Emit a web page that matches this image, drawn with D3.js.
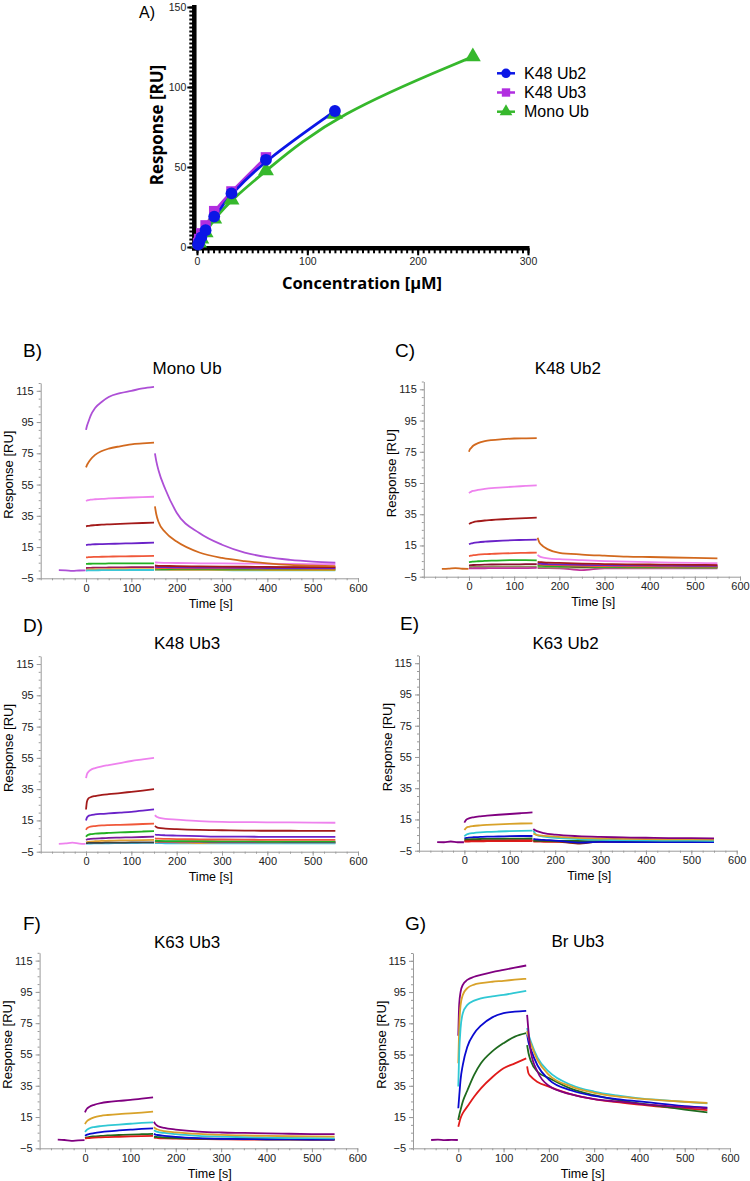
<!DOCTYPE html>
<html>
<head>
<meta charset="utf-8">
<script src="https://cdn.jsdelivr.net/npm/d3@7"></script>
<style>
  body { margin: 0; background: #fff; }
  svg { display: block; }
</style>
</head>
<body>
<svg id="canvas" width="750" height="1181"></svg>
<script>
// ---------- panel A: binding isotherms ----------
const concK48Ub2 = [0, 0.98, 1.95, 3.9, 7.8, 15.6, 31.25, 62.5, 125];
const respK48Ub2 = [0, 1.5, 3, 6, 10.5, 19, 33.5, 54.5, 85];
const concK48Ub3 = [0, 0.98, 1.95, 3.9, 7.8, 15.6, 31.25, 62.5];
const respK48Ub3 = [0, 2.5, 5, 8.5, 13.5, 22.4, 34.7, 56];
const concMonoUb = [0, 1.95, 3.9, 7.8, 15.6, 31.25, 62.5, 125, 250];
const respMonoUb = [0, 2.5, 5, 9, 17.5, 29.5, 47.7, 83, 119];

// ---------- sensorgram time grids ----------
const assocT = [0, 2, 5, 10, 20, 35, 50, 75, 100, 125, 150];
const dissocT = [152, 155, 160, 175, 200, 250, 300, 350, 400, 450, 500, 550];
const baseT = [-60, -45, -30, -15, -1];

// B) Mono Ub
const monoUbColors = ["#ad4fd6", "#d2691e", "#ee82ee", "#a31a1a", "#6a22c8", "#f0583a", "#22b022", "#9b1a5a", "#f0a030", "#3cc8d8"];
const monoUbAssoc = [
  [90, 92.5, 95, 99, 104, 108, 111, 113.5, 115, 116.5, 117.5],
  [66, 67.5, 69, 71, 74, 76.5, 78, 79.5, 80.7, 81.3, 81.8],
  [44.5, 44.8, 45, 45.3, 45.6, 45.9, 46.1, 46.4, 46.7, 47, 47.2],
  [28.3, 28.4, 28.6, 28.8, 29, 29.3, 29.5, 29.8, 30.1, 30.4, 30.7],
  [16.3, 16.4, 16.5, 16.6, 16.8, 16.9, 17, 17.2, 17.4, 17.6, 17.8],
  [8.4, 8.4, 8.5, 8.6, 8.7, 8.8, 8.9, 9, 9.1, 9.2, 9.3],
  [4.2, 4.2, 4.3, 4.3, 4.4, 4.4, 4.5, 4.5, 4.5, 4.6, 4.6],
  [1.6, 1.6, 1.7, 1.7, 1.8, 1.8, 1.9, 2, 2.1, 2.1, 2.2],
  [0.6, 0.6, 0.6, 0.7, 0.7, 0.7, 0.8, 0.8, 0.8, 0.9, 0.9],
  [0, 0, 0.1, 0.1, 0.1, 0.2, 0.2, 0.2, 0.3, 0.3, 0.3]
];
const monoUbDissoc = [
  [75, 70, 64, 52, 37, 24, 16.5, 11.5, 8.5, 6.8, 5.7, 5],
  [41, 36, 31, 24.5, 18.5, 11.5, 8, 6, 4.6, 3.6, 3.1, 2.8],
  [5.2, 5.1, 5, 4.9, 4.8, 4.6, 4.5, 4.4, 4.3, 4.2, 4.1, 4],
  [3.2, 3.1, 3, 2.9, 2.8, 2.6, 2.5, 2.4, 2.3, 2.2, 2.2, 2.1],
  [2.4, 2.3, 2.2, 2.1, 2, 1.9, 1.8, 1.7, 1.6, 1.6, 1.5, 1.5],
  [1.6, 1.6, 1.5, 1.5, 1.4, 1.4, 1.3, 1.3, 1.2, 1.2, 1.1, 1.1],
  [1, 1, 1, 0.9, 0.9, 0.9, 0.8, 0.8, 0.8, 0.8, 0.7, 0.7],
  [2.6, 2.5, 2.4, 2.3, 2.2, 2.1, 2, 2, 1.9, 1.9, 1.9, 1.8],
  [0.5, 0.5, 0.5, 0.5, 0.4, 0.4, 0.4, 0.4, 0.3, 0.3, 0.3, 0.3],
  [0.3, 0.3, 0.3, 0.2, 0.2, 0.2, 0.2, 0.1, 0.1, 0.1, 0.1, 0.1]
];
const monoUbBase = [0.2, 0.1, -0.3, 0, 0.1];

// C) K48 Ub2
const k48Ub2Colors = ["#d2691e", "#ee82ee", "#a31a1a", "#6a22c8", "#f0583a", "#22b022", "#8b1030", "#8f8f5a", "#c0309a"];
const k48Ub2Assoc = [
  [75, 76.5, 77.5, 79, 80.5, 81.8, 82.5, 83.1, 83.5, 83.6, 83.7],
  [48.5, 49, 49.5, 50, 50.6, 51.2, 51.7, 52.2, 52.7, 53.1, 53.5],
  [28.8, 29.1, 29.5, 30, 30.5, 31, 31.3, 31.8, 32.2, 32.5, 32.8],
  [15.8, 16, 16.3, 16.6, 17, 17.4, 17.7, 18.1, 18.4, 18.6, 18.8],
  [8.2, 8.3, 8.5, 8.8, 9.1, 9.4, 9.6, 9.9, 10.1, 10.3, 10.4],
  [4.3, 4.4, 4.5, 4.7, 4.9, 5.1, 5.3, 5.5, 5.6, 5.6, 5.5],
  [2.3, 2.3, 2.4, 2.5, 2.6, 2.7, 2.8, 2.9, 2.9, 3, 3],
  [1.2, 1.2, 1.2, 1.3, 1.3, 1.3, 1.4, 1.4, 1.4, 1.5, 1.5],
  [0.3, 0.3, 0.3, 0.4, 0.4, 0.4, 0.5, 0.5, 0.5, 0.5, 0.6]
];
const k48Ub2Dissoc = [
  [20, 17.5, 15.5, 12.5, 10.3, 9.2, 8.5, 7.9, 7.6, 7.3, 7, 6.7],
  [9, 8.2, 7.5, 6.8, 6.2, 5.6, 5, 4.6, 4.3, 4, 3.8, 3.6],
  [4.5, 4.4, 4.3, 4, 3.8, 3.4, 3.1, 2.9, 2.8, 2.7, 2.6, 2.5],
  [3.5, 3.4, 3.3, 3.1, 2.9, 2.6, 2.4, 2.3, 2.2, 2.1, 2, 2],
  [3, 2.9, 2.8, 2.6, 2.4, 2, 1.8, 1.7, 1.6, 1.5, 1.5, 1.4],
  [2, 1.9, 1.9, 1.8, 1.7, 1.5, 1.3, 1.2, 1.1, 1.1, 1, 1],
  [2.8, 2.7, 2.6, 2.5, 2.3, 1.2, 1.8, 1.7, 1.6, 1.6, 1.5, 1.5],
  [1, 1, 1, 0.9, 0.9, 0.8, 0.8, 0.7, 0.7, 0.7, 0.6, 0.6],
  [0.5, 0.5, 0.5, 0.5, 0.4, -0.8, 0.4, 0.4, 0.3, 0.3, 0.3, 0.3]
];
const k48Ub2Base = [0, 0.2, 0.5, 0.1, 0];

// D) K48 Ub3
const k48Ub3Colors = ["#ee82ee", "#a31a1a", "#6a22c8", "#f0583a", "#22b022", "#7a1a9a", "#e0a030", "#3cb8e0", "#404040"];
const k48Ub3Assoc = [
  [42, 44.5, 46, 47.3, 48.5, 49.6, 50.4, 51.7, 53, 54, 55],
  [22, 27, 29, 29.8, 30.6, 31.3, 31.8, 32.5, 33.3, 34.1, 35],
  [15, 16.8, 17.8, 18.3, 18.8, 19.2, 19.5, 20, 20.5, 21.2, 22],
  [9, 10, 10.5, 11, 11.4, 11.8, 12, 12.2, 12.4, 12.7, 13],
  [4.5, 5.3, 5.8, 6.2, 6.5, 6.8, 7, 7.3, 7.6, 7.9, 8.2],
  [2.5, 2.8, 3, 3.2, 3.4, 3.6, 3.8, 4, 4.2, 4.4, 4.6],
  [1, 1.2, 1.3, 1.5, 1.7, 1.9, 2, 2.2, 2.3, 2.4, 2.5],
  [0, 0.1, 0.1, 0.2, 0.3, 0.4, 0.4, 0.5, 0.5, 0.6, 0.6],
  [0.5, 0.5, 0.6, 0.6, 0.7, 0.7, 0.8, 0.8, 0.9, 0.9, 1]
];
const k48Ub3Dissoc = [
  [18.4, 17.5, 16.8, 16, 15.5, 14.6, 14.1, 13.9, 13.8, 13.7, 13.6, 13.5],
  [11.5, 10.8, 10.2, 9.8, 9.4, 8.9, 8.7, 8.5, 8.4, 8.4, 8.3, 8.3],
  [6, 5.8, 5.7, 5.5, 5.3, 4.9, 4.6, 4.6, 4.5, 4.5, 4.5, 4.5],
  [3.5, 3.4, 3.3, 3.2, 3.1, 2.9, 2.8, 2.7, 2.6, 2.6, 2.5, 2.5],
  [2, 2, 1.9, 1.8, 1.8, 1.7, 1.6, 1.6, 1.5, 1.5, 1.5, 1.5],
  [1.6, 1.6, 1.5, 1.5, 1.4, 1.4, 1.3, 1.3, 1.3, 1.2, 1.2, 1.2],
  [1.2, 1.2, 1.1, 1.1, 1, 0.5, 1, 0.9, 0.9, 0.9, 0.9, 0.9],
  [0.5, 0.5, 0.5, 0.4, 0.4, 0.4, 0.3, 0.3, 0.3, 0.3, 0.3, 0.3],
  [0.8, 0.8, 0.8, 0.7, 0.7, 0.7, 0.6, 0.6, 0.6, 0.6, 0.6, 0.6]
];
const k48Ub3Base = [0, 0.3, 0.8, 0.2, 0];

// E) K63 Ub2
const k63Ub2Colors = ["#800080", "#d8a22a", "#30c8d4", "#0a0ad0", "#1e6a1e", "#8b2a10", "#e01a1a"];
const k63Ub2Assoc = [
  [13, 14, 15, 15.7, 16.4, 17, 17.4, 18, 18.5, 19, 19.5],
  [8.2, 9, 9.8, 10.3, 10.8, 11.2, 11.5, 11.9, 12.2, 12.4, 12.5],
  [4.2, 4.8, 5.4, 5.9, 6.3, 6.7, 7, 7.3, 7.5, 7.7, 7.8],
  [2.8, 3, 3.2, 3.4, 3.6, 3.8, 4, 4.1, 4.3, 4.4, 4.4],
  [2, 2.1, 2.2, 2.3, 2.4, 2.5, 2.6, 2.6, 2.7, 2.7, 2.8],
  [1.3, 1.3, 1.4, 1.4, 1.5, 1.5, 1.6, 1.6, 1.7, 1.7, 1.8],
  [0.8, 0.8, 0.9, 0.9, 1, 1, 1.1, 1.1, 1.1, 1.2, 1.2]
];
const k63Ub2Dissoc = [
  [9, 8.2, 7.5, 6.3, 5.3, 4.3, 3.8, 3.5, 3.3, 3.1, 3, 2.9],
  [6, 5.5, 5, 4.5, 4, 3.2, 2.8, 2.6, 2.4, 2.3, 2.2, 2.1],
  [8, 6.3, 5, 4, 3.3, 2.5, 2, 1.8, 1.6, 1.5, 1.4, 1.3],
  [2.5, 2.4, 2.2, 1.9, 1.5, 0.2, 0.6, 0.5, 0.5, 0.5, 0.5, 0.5],
  [1.6, 1.6, 1.5, 1.4, 1.3, 1.2, 1.1, 1.1, 1, 1, 1, 1],
  [1.2, 1.2, 1.1, 1.1, 1, -0.4, 0.9, 0.9, 0.8, 0.8, 0.8, 0.8],
  [0.8, 0.8, 0.8, 0.7, 0.7, 0.6, 0.6, 0.6, 0.5, 0.5, 0.5, 0.5]
];
const k63Ub2Base = [0.5, 0.4, 0.9, 0.4, 0.4];

// F) K63 Ub3
const k63Ub3Colors = ["#800080", "#d8a22a", "#30c8d4", "#0a0ad0", "#1e6a1e", "#e01a1a"];
const k63Ub3Assoc = [
  [18, 19.3, 20.5, 21.6, 22.8, 23.9, 24.6, 25.3, 25.9, 26.7, 27.6],
  [10.5, 11.5, 12.5, 13.5, 14.8, 15.8, 16.3, 16.9, 17.3, 17.8, 18.4],
  [5.5, 6.2, 7, 7.8, 8.6, 9.2, 9.6, 10.2, 10.7, 11.2, 11.6],
  [3, 3.4, 3.8, 4.2, 4.7, 5.3, 5.8, 6.4, 6.9, 7.4, 7.8],
  [1.7, 1.8, 2, 2.3, 2.6, 2.9, 3.2, 3.5, 3.8, 4, 4.2],
  [1.3, 1.4, 1.5, 1.6, 1.8, 2, 2.2, 2.4, 2.6, 2.8, 2.9]
];
const k63Ub3Dissoc = [
  [12, 10.5, 9.3, 8, 7, 5.7, 5.1, 4.8, 4.5, 4.3, 4.1, 4],
  [8.5, 7.7, 7, 6, 5.2, 4.2, 3.6, 3.2, 2.9, 2.7, 2.6, 2.5],
  [6.5, 6, 5.5, 4.8, 4, 3, 2.5, 2.1, 1.8, 1.6, 1.5, 1.4],
  [4.2, 3.8, 3.5, 3, 2.3, 1.5, 1.1, 0.9, 0.8, 0.7, 0.6, 0.6],
  [2.5, 2.3, 2.2, 1.9, 1.6, 1.2, 1, 0.9, 0.8, 0.8, 0.7, 0.7],
  [1.8, 1.7, 1.6, 1.4, 1.2, 0.9, 0.7, 0.6, 0.5, 0.5, 0.4, 0.4]
];
const k63Ub3Base = [0.5, 0.3, -0.2, 0.1, 0.2];

// G) Br Ub3
const brUb3Colors = ["#800080", "#d8a22a", "#30c8d4", "#0a0ad0", "#1e6a1e", "#e01a1a"];
const brUb3Assoc = [
  [67, 87, 95, 99.6, 102.8, 104.8, 106, 107.8, 109.2, 110.6, 112],
  [49.4, 72, 86.5, 93.2, 97.5, 99.8, 100.7, 101.6, 102.2, 102.9, 103.5],
  [34.5, 56, 71.5, 81.5, 86.8, 89.5, 91, 92.2, 93.2, 94.5, 95.8],
  [20.6, 28, 38.8, 48.4, 60, 68.5, 73.5, 78.8, 81.5, 82.5, 83],
  [13.1, 16, 19.5, 24.9, 32, 42, 49.4, 57, 62.3, 66.5, 68.7],
  [8.8, 11, 14.2, 17.5, 21.7, 28, 33.4, 40.5, 46.2, 49.4, 52.6]
];
const brUb3Dissoc = [
  [80.4, 70, 57, 44, 35, 29.5, 26.5, 25, 23.5, 22.3, 21.3, 20.6],
  [70, 66, 62, 51.5, 42, 34.5, 30.5, 28.2, 26.8, 25.7, 24.8, 24],
  [72, 68, 63.5, 53, 44, 35.5, 31.3, 28.8, 27, 25.8, 24.7, 23.8],
  [68, 63, 58.5, 48, 39, 32, 28.5, 26.5, 25, 23.5, 22, 21],
  [61, 56, 51, 44, 40, 33, 29, 26, 23.8, 21.8, 19.8, 18],
  [47.5, 43, 41, 37.5, 34.5, 29.5, 26.5, 24.5, 23, 21.5, 20.5, 19.4]
];
const brUb3Base = [0.3, 0.5, 0.2, 0.4, 0.3];

const svg = d3.select("#canvas");

// ================= Panel A =================
const xA = d3.scaleLinear().domain([0, 300]).range([197, 528]);
const yA = d3.scaleLinear().domain([0, 150]).range([247, 7]);
const gA = svg.append("g");

// minor ticks (Prism look)
gA.append("g")
  .attr("transform", "translate(194.3,0)")
  .call(d3.axisLeft(yA).tickValues(d3.range(0, 150.1, 2.5)).tickSize(5).tickFormat(""))
  .call(g => g.select(".domain").remove())
  .selectAll("line").attr("stroke", "#000").attr("stroke-width", 2);
gA.append("g")
  .attr("transform", "translate(0,248.3)")
  .call(d3.axisBottom(xA).tickValues(d3.range(0, 300.1, 5)).tickSize(5).tickFormat(""))
  .call(g => g.select(".domain").remove())
  .selectAll("line").attr("stroke", "#000").attr("stroke-width", 2);

const yAxisA = gA.append("g")
  .attr("transform", "translate(194.3,0)")
  .call(d3.axisLeft(yA).tickValues([0, 50, 100, 150]).tickSize(7).tickSizeOuter(0).tickPadding(1));
yAxisA.select(".domain").attr("stroke-width", 4.5).attr("d", "M0,5V250.5");
const xAxisA = gA.append("g")
  .attr("transform", "translate(0,248.3)")
  .call(d3.axisBottom(xA).tickValues([0, 100, 200, 300]).tickSize(7).tickSizeOuter(0).tickPadding(2));
xAxisA.select(".domain").attr("stroke-width", 4.5).attr("d", "M192,0H529.5");
gA.selectAll(".tick line").attr("stroke-width", 2);
gA.selectAll(".tick text").style("font-family", "Liberation Sans, Arial, sans-serif").style("font-size", "10.5px").attr("fill", "#222");

gA.append("text")
  .attr("transform", "translate(163,125) rotate(-90)")
  .attr("text-anchor", "middle")
  .style("font-family", "Open Sans, sans-serif").style("font-weight", "bold").style("font-size", "17px")
  .text("Response [RU]");
gA.append("text")
  .attr("x", 362).attr("y", 289)
  .attr("text-anchor", "middle")
  .style("font-family", "Open Sans, sans-serif").style("font-weight", "bold").style("font-size", "16.5px")
  .text("Concentration [μM]");
gA.append("text")
  .attr("x", 139).attr("y", 18)
  .style("font-family", "Liberation Sans, Arial, sans-serif").style("font-size", "16px")
  .text("A)");

const isotherms = [
  { name: "Mono Ub", conc: concMonoUb, resp: respMonoUb, color: "#36b82c", shape: d3.symbolTriangle, size: 110 },
  { name: "K48 Ub3", conc: concK48Ub3, resp: respK48Ub3, color: "#b12ee0", shape: d3.symbolSquare, size: 110 },
  { name: "K48 Ub2", conc: concK48Ub2, resp: respK48Ub2, color: "#0b16e6", shape: d3.symbolCircle, size: 110 }
];
const fitLine = d3.line().x(d => xA(d[0])).y(d => yA(d[1])).curve(d3.curveBasis);
isotherms.forEach(s => {
  gA.append("path")
    .datum(d3.zip(s.conc, s.resp))
    .attr("d", fitLine)
    .attr("fill", "none").attr("stroke", s.color).attr("stroke-width", 2.8);
});
isotherms.forEach(s => {
  gA.selectAll(null)
    .data(d3.zip(s.conc, s.resp).filter(d => d[0] > 0))
    .enter().append("path")
    .attr("transform", d => `translate(${xA(d[0])},${yA(d[1])})`)
    .attr("d", d3.symbol().type(s.shape).size(s.size))
    .attr("fill", s.color);
});

// legend
const legendOrder = [isotherms[2], isotherms[1], isotherms[0]];
legendOrder.forEach((s, i) => {
  const ly = 73.3 + i * 19.2;
  gA.append("line").attr("x1", 497).attr("x2", 515).attr("y1", ly).attr("y2", ly)
    .attr("stroke", s.color).attr("stroke-width", 2.5);
  gA.append("path").attr("transform", `translate(506,${ly})`)
    .attr("d", d3.symbol().type(s.shape).size(70)).attr("fill", s.color);
  gA.append("text").attr("x", 524).attr("y", ly + 5.7)
    .style("font-family", "Liberation Sans, Arial, sans-serif").style("font-size", "16px")
    .text(s.name);
});

// ================= Sensorgram panels =================
const panels = [
  { letter: "B)", title: "Mono Ub", colors: monoUbColors, assoc: monoUbAssoc, dissoc: monoUbDissoc, base: monoUbBase,
    left: 40.7, right: 358, bottom: 578.3, top: 383, lx: 23, ly: 350, titleT: 223, titleY: 368 },
  { letter: "C)", title: "K48 Ub2", colors: k48Ub2Colors, assoc: k48Ub2Assoc, dissoc: k48Ub2Dissoc, base: k48Ub2Base,
    left: 423.8, right: 740, bottom: 576.7, top: 381.5, lx: 395, ly: 350, titleT: 219, titleY: 368 },
  { letter: "D)", title: "K48 Ub3", colors: k48Ub3Colors, assoc: k48Ub3Assoc, dissoc: k48Ub3Dissoc, base: k48Ub3Base,
    left: 40.7, right: 358, bottom: 851.7, top: 656.2, lx: 23, ly: 625, titleT: 223, titleY: 643 },
  { letter: "E)", title: "K63 Ub2", colors: k63Ub2Colors, assoc: k63Ub2Assoc, dissoc: k63Ub2Dissoc, base: k63Ub2Base,
    left: 419, right: 736.7, bottom: 850.7, top: 655.4, lx: 400, ly: 623, titleT: 223, titleY: 643 },
  { letter: "F)", title: "K63 Ub3", colors: k63Ub3Colors, assoc: k63Ub3Assoc, dissoc: k63Ub3Dissoc, base: k63Ub3Base,
    left: 39.6, right: 357.3, bottom: 1148.3, top: 952.8, lx: 23, ly: 923, titleT: 225, titleY: 941.5 },
  { letter: "G)", title: "Br Ub3", colors: brUb3Colors, assoc: brUb3Assoc, dissoc: brUb3Dissoc, base: brUb3Base,
    left: 413, right: 730, bottom: 1148.3, top: 953, lx: 405, ly: 923, titleT: 264, titleY: 941 }
];

const font = "Liberation Sans, Arial, sans-serif";

panels.forEach(p => {
  const g = svg.append("g");
  const x = d3.scaleLinear().domain([-100, 600]).range([p.left, p.right]);
  const y = d3.scaleLinear().domain([-5, 120]).range([p.bottom, p.top]);

  // minor y ticks
  g.append("g")
    .attr("transform", `translate(${p.left},0)`)
    .call(d3.axisLeft(y).tickValues(d3.range(-5, 121, 5)).tickSize(2).tickFormat(""))
    .call(a => a.select(".domain").remove());
  // minor x ticks
  g.append("g")
    .attr("transform", `translate(0,${p.bottom})`)
    .call(d3.axisBottom(x).tickValues(d3.range(-100, 601, 25)).tickSize(2).tickFormat(""))
    .call(a => a.select(".domain").remove());

  g.append("g")
    .attr("transform", `translate(${p.left},0)`)
    .call(d3.axisLeft(y).tickValues(d3.range(-5, 116, 20)).tickSize(4).tickSizeOuter(0).tickPadding(3));
  g.append("g")
    .attr("transform", `translate(0,${p.bottom})`)
    .call(d3.axisBottom(x).tickValues(d3.range(0, 601, 100)).tickSize(4).tickSizeOuter(0).tickPadding(2));

  g.selectAll(".domain, .tick line").attr("stroke", "#9a9a9a");
  g.selectAll(".tick text").style("font-family", font).style("font-size", "11px").attr("fill", "#222");

  // traces
  const line = d3.line().x(d => x(d[0])).y(d => y(d[1])).curve(d3.curveMonotoneX);
  const traces = g.append("g").attr("fill", "none").attr("stroke-width", 1.8);
  p.colors.forEach((c, i) => {
    traces.append("path").datum(d3.zip(assocT, p.assoc[i])).attr("d", line).attr("stroke", c);
  });
  p.colors.slice().reverse().forEach((c, j) => {
    const i = p.colors.length - 1 - j;
    traces.append("path").datum(d3.zip(dissocT, p.dissoc[i])).attr("d", line).attr("stroke", c);
  });
  traces.append("path").datum(d3.zip(baseT, p.base)).attr("d", line).attr("stroke", p.colors[0]);

  // labels
  g.append("text").attr("x", p.lx).attr("y", p.ly + 7)
    .style("font-family", font).style("font-size", "19px").text(p.letter);
  g.append("text").attr("x", x(p.titleT)).attr("y", p.titleY + 6)
    .attr("text-anchor", "middle")
    .style("font-family", font).style("font-size", "17px").text(p.title);
  g.append("text")
    .attr("transform", `translate(${p.left - 27.5},${(p.top + p.bottom) / 2 - 6}) rotate(-90)`)
    .attr("text-anchor", "middle")
    .style("font-family", font).style("font-size", "13px").text("Response [RU]");
  g.append("text").attr("x", x(275)).attr("y", p.bottom + 29.5)
    .attr("text-anchor", "middle")
    .style("font-family", font).style("font-size", "12.5px").text("Time [s]");
});
</script>
</body>
</html>
